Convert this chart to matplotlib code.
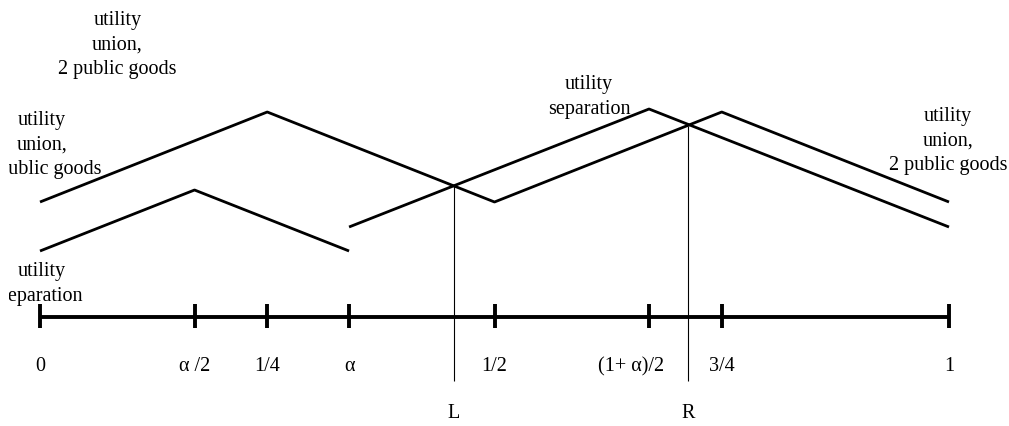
import matplotlib
matplotlib.use("Agg")
import matplotlib.pyplot as plt
from matplotlib.transforms import Bbox, TransformedBbox

plt.rcParams['font.family'] = ['Liberation Serif', 'DejaVu Serif']

# positions on the unit interval (alpha ~ 0.34)
tick_x = [0, 0.17, 0.25, 0.34, 0.5, 0.67, 0.75, 1]
tick_labels = ['0', 'α /2', '1/4', 'α', '1/2', '(1+ α)/2', '3/4', '1']

# utility, union with 2 public goods
union_x = [0, 0.25, 0.5, 0.75, 1]
union_u = [115, 205, 115, 205, 115]

# utility, separation (two pieces)
sep1_x = [0, 0.17, 0.34]
sep1_u = [66, 127, 66]
sep2_x = [0.34, 0.67, 1]
sep2_u = [90, 208, 90]

# crossing points L and R
cross_x = [0.455, 0.713]
cross_u = [131, 191]
cross_labels = ['L', 'R']

fig = plt.figure(figsize=(10.09, 4.27), dpi=100)
ax = fig.add_axes([0, 0, 1, 1])
ax.set_xlim(-40 / 909, 1 + 60 / 909)
ax.set_ylim(-109, 318)
ax.axis('off')

lw = 2.0
ax.plot(union_x, union_u, color='black', lw=lw, solid_capstyle='butt')
ax.plot(sep1_x, sep1_u, color='black', lw=lw, solid_capstyle='butt')
ax.plot(sep2_x, sep2_u, color='black', lw=lw, solid_capstyle='butt')

# number line
ax.plot([tick_x[0], tick_x[-1]], [0, 0], color='black', lw=2.8, solid_capstyle='butt')
ax.vlines(tick_x, -11, 13, color='black', lw=2.8)
for x, lab in zip(tick_x, tick_labels):
    dx = -0.02 if lab.startswith('(') else 0
    ax.text(x + dx, -49, lab, ha='center', va='center', fontsize=14.5)

# vertical lines through the crossings
ax.vlines(cross_x, -64, cross_u, color='black', lw=0.8)
for x, lab in zip(cross_x, cross_labels):
    ax.text(x, -96, lab, ha='center', va='center', fontsize=14.5)

# labels (the left ones are cut by a box edge in the original)
fs = 14.5
ls = 1.4
clip = TransformedBbox(Bbox([[9 / 1009, 0], [1, 1]]), fig.transFigure)

ax.text(0.085, 273, 'utility\nunion,\n2 public goods', ha='center', va='center',
        fontsize=fs, linespacing=ls)
t1 = ax.text(0.002, 173, 'utility\nunion,\n2 public goods', ha='center', va='center',
             fontsize=fs, linespacing=ls)
t2 = ax.text(0.002, 34, 'utility\nseparation', ha='center', va='center',
             fontsize=fs, linespacing=ls)
for t in (t1, t2):
    t.set_clip_box(clip)
    t.set_clip_on(True)
ax.text(0.604, 221, 'utility\nseparation', ha='center', va='center',
        fontsize=fs, linespacing=ls)
ax.text(0.999, 177, 'utility\nunion,\n2 public goods', ha='center', va='center',
        fontsize=fs, linespacing=ls)

fig.savefig('out.png', dpi=100)
